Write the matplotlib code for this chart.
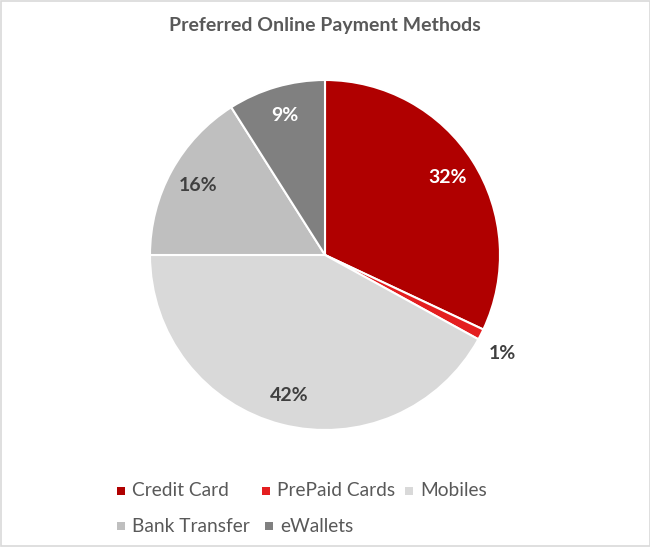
import matplotlib
matplotlib.use("Agg")
import matplotlib.pyplot as plt
from matplotlib.patches import Rectangle
import numpy as np

# data
labels = ["Credit Card", "PrePaid Cards", "Mobiles", "Bank Transfer", "eWallets"]
shares = [32, 1, 42, 16, 9]
colors = ["#B00000", "#E41E20", "#D9D9D9", "#BFBFBF", "#808080"]
pct_colors = ["white", "#404040", "#404040", "#404040", "white"]

plt.rcParams["font.family"] = ["Lato", "DejaVu Sans"]

W, H = 650, 548
fig = plt.figure(figsize=(W / 100, H / 100), dpi=100)

# pie centre (325, 255) px, radius 175 px
cx, cy, r = 325, 255, 175
ax = fig.add_axes([(cx - r) / W, (H - cy - r) / H, 2 * r / W, 2 * r / H])

wedges, texts, autotexts = ax.pie(
    shares, colors=colors, startangle=90, counterclock=False,
    autopct="%1.0f%%", pctdistance=0.83,
    wedgeprops=dict(edgecolor="white", linewidth=1.5),
)
ax.set_xlim(-1, 1)
ax.set_ylim(-1, 1)
ax.set_aspect("equal")
ax.axis("off")

for w, t, c in zip(wedges, autotexts, pct_colors):
    t.set_color(c)
    t.set_fontsize(14)
    t.set_fontweight("bold")
    if w.theta2 - w.theta1 < 10:
        # small slice: label goes outside
        ang = np.deg2rad((w.theta1 + w.theta2) / 2 - 2)
        t.set_position((1.16 * np.cos(ang), 1.16 * np.sin(ang)))

fig.text(0.5, 1 - 25 / H, "Preferred Online Payment Methods", ha="center", va="center",
         fontsize=14, fontweight="bold", color="#595959")

# legend laid out like the Excel flow legend
leg_pos = [(117, 491), (262, 491), (405, 491), (117, 526), (265, 526)]
for (x, y), lab, col in zip(leg_pos, labels, colors):
    fig.patches.append(Rectangle((x / W, (H - y - 4) / H), 8 / W, 8 / H,
                                 transform=fig.transFigure, facecolor=col,
                                 edgecolor="none"))
    fig.text((x + 15) / W, 1 - y / H, lab, ha="left", va="center",
             fontsize=13.8, color="#595959")

# chart area border
fig.patches.append(Rectangle((0.5 / W, 2 / H), (W - 1) / W, (H - 3) / H,
                             transform=fig.transFigure, facecolor="none",
                             edgecolor="#D9D9D9", linewidth=1.2))

fig.savefig("out.png", dpi=100, facecolor="white")
